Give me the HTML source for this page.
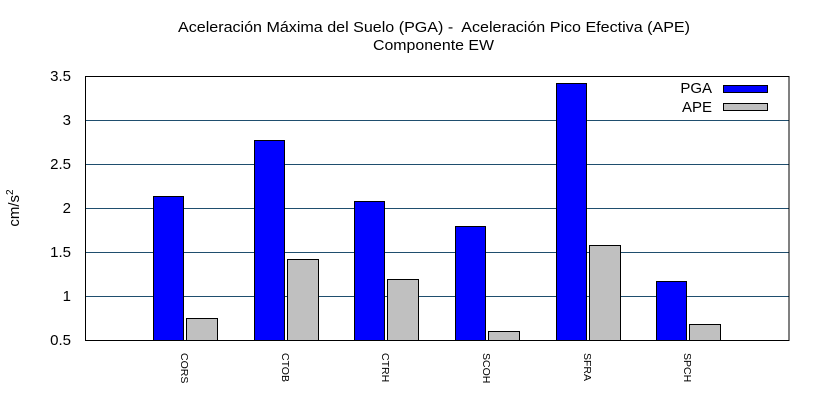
<!DOCTYPE html>
<html><head><style>body{margin:0;background:#fff}</style></head><body>
<svg width="820" height="400" xmlns="http://www.w3.org/2000/svg" font-family="Liberation Sans, sans-serif">
<rect width="820" height="400" fill="#fff"/>
<text x="178" y="32" font-size="15" textLength="512" lengthAdjust="spacingAndGlyphs" xml:space="preserve">Aceleración Máxima del Suelo (PGA) -  Aceleración Pico Efectiva (APE)</text>
<text x="373" y="50" font-size="15" textLength="121" lengthAdjust="spacingAndGlyphs">Componente EW</text>
<g stroke="#1f4e6e" stroke-width="1">
<line x1="85" y1="120.5" x2="789" y2="120.5"/><line x1="85" y1="164.5" x2="789" y2="164.5"/>
<line x1="85" y1="208.5" x2="789" y2="208.5"/><line x1="85" y1="252.5" x2="789" y2="252.5"/>
<line x1="85" y1="296.5" x2="789" y2="296.5"/>
</g>
<rect x="85.5" y="76.5" width="703.5" height="264" fill="none" stroke="#000"/>
<g font-size="15" text-anchor="end">
<text x="71" y="81">3.5</text><text x="71" y="125">3</text><text x="71" y="169">2.5</text>
<text x="71" y="213">2</text><text x="71" y="257">1.5</text><text x="71" y="301">1</text><text x="71" y="345">0.5</text>
</g>
<text transform="translate(19,208) rotate(-90)" font-size="15" text-anchor="middle">cm/s<tspan dy="-6" font-size="10">2</tspan></text>
<g stroke="#000" stroke-width="1">
<rect x="153.5" y="196.5" width="30" height="144" fill="#0000ff"/>
<rect x="186.5" y="318.5" width="31" height="22" fill="#c0c0c0"/>
<rect x="254.5" y="140.5" width="30" height="200" fill="#0000ff"/>
<rect x="287.5" y="259.5" width="31" height="81" fill="#c0c0c0"/>
<rect x="354.5" y="201.5" width="30" height="139" fill="#0000ff"/>
<rect x="387.5" y="279.5" width="31" height="61" fill="#c0c0c0"/>
<rect x="455.5" y="226.5" width="30" height="114" fill="#0000ff"/>
<rect x="488.5" y="331.5" width="31" height="9" fill="#c0c0c0"/>
<rect x="556.5" y="83.5" width="30" height="257" fill="#0000ff"/>
<rect x="589.5" y="245.5" width="31" height="95" fill="#c0c0c0"/>
<rect x="656.5" y="281.5" width="30" height="59" fill="#0000ff"/>
<rect x="689.5" y="324.5" width="31" height="16" fill="#c0c0c0"/>
<rect x="723.5" y="85.5" width="44" height="7" fill="#0000ff"/>
<rect x="723.5" y="103.5" width="44" height="7" fill="#c0c0c0"/>
</g>
<g font-size="15" text-anchor="end"><text x="712" y="93">PGA</text><text x="712" y="112">APE</text></g>
<g font-size="10.5">
<text transform="translate(181,353) rotate(90)">CORS</text>
<text transform="translate(282,353) rotate(90)">CTOB</text>
<text transform="translate(382,353) rotate(90)">CTRH</text>
<text transform="translate(483,353) rotate(90)">SCOH</text>
<text transform="translate(584,353) rotate(90)">SFRA</text>
<text transform="translate(684,353) rotate(90)">SPCH</text>
</g>
</svg>
</body></html>
